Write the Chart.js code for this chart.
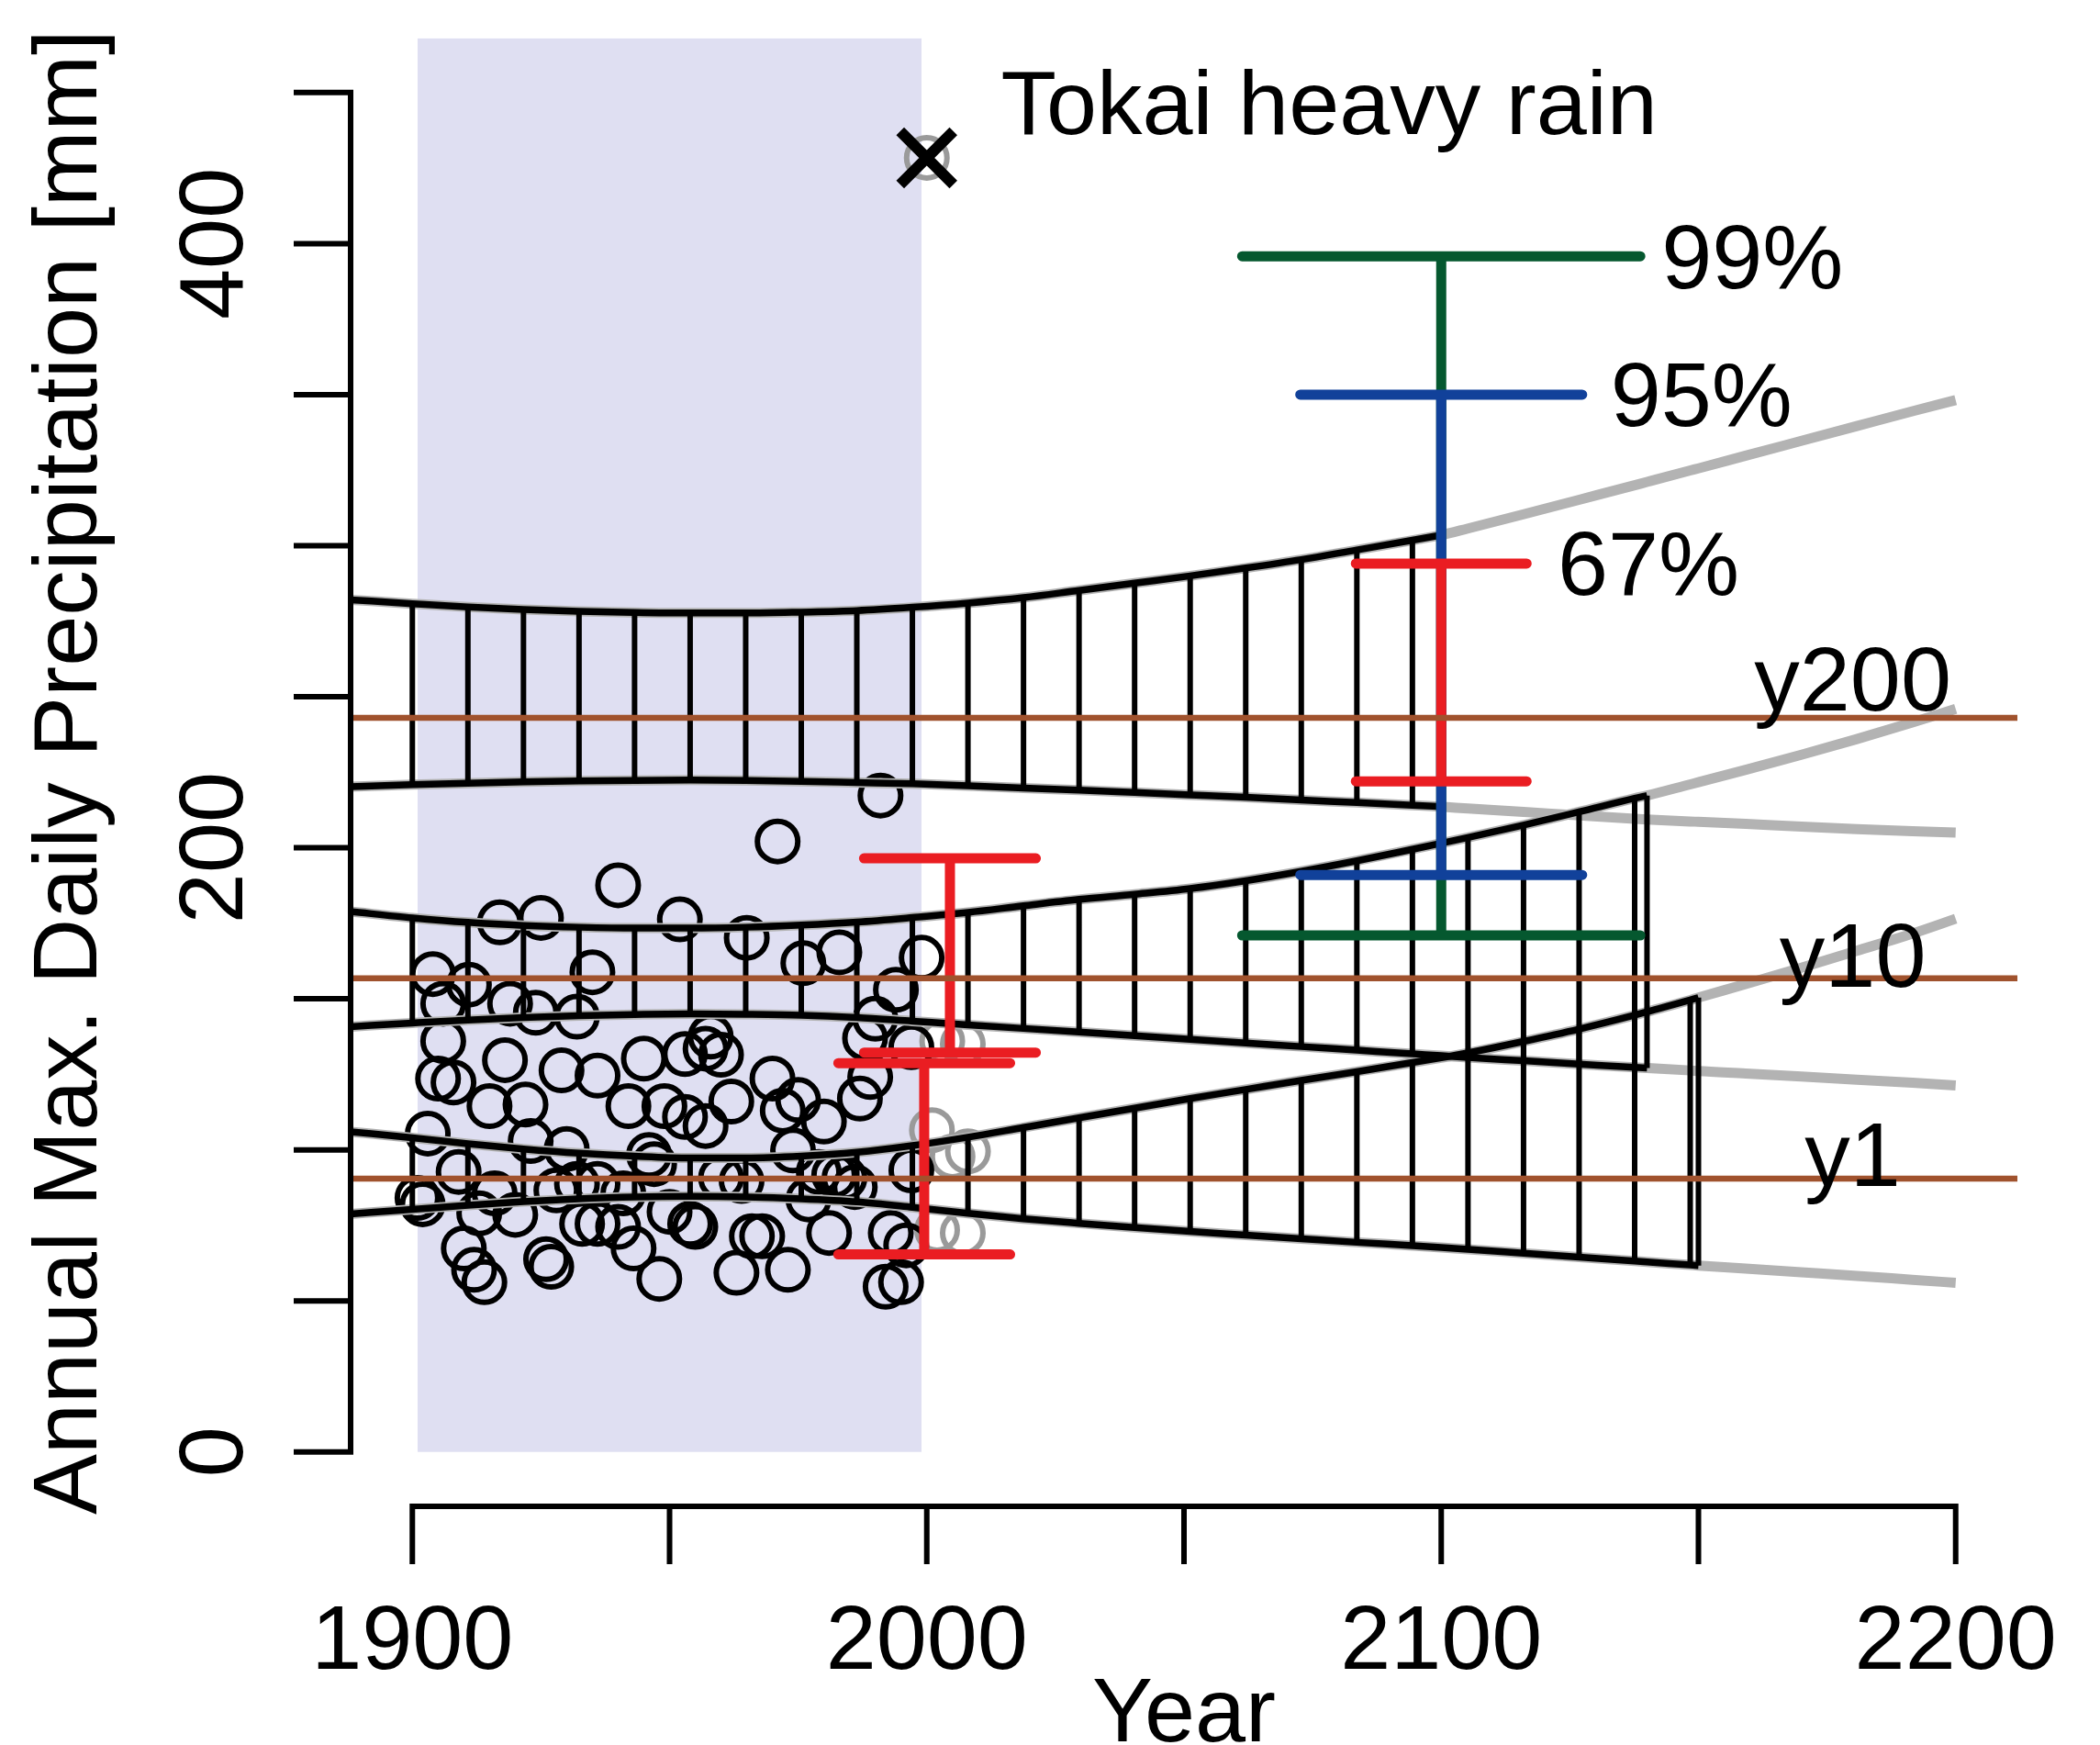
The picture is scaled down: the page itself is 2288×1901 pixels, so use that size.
<!DOCTYPE html>
<html>
<head>
<meta charset="utf-8">
<script src="https://cdn.jsdelivr.net/npm/chart.js@4.4.0/dist/chart.umd.min.js"></script>
<style>
  html, body { margin: 0; padding: 0; background: #fff; }
  canvas { display: block; }
</style>
</head>
<body>
<canvas id="chart" width="2288" height="1901"></canvas>
<script>
// === DATA ===
// x positions where the band boundaries were read (hatch grid + band ends)
const years = [1888, 1900, 1910.8, 1921.6, 1932.4, 1943.2, 1954, 1964.8, 1975.6, 1986.4, 1997.2,
  2008, 2018.8, 2029.6, 2040.4, 2051.2, 2062, 2072.8, 2083.6, 2094.4, 2100, 2105.2, 2116,
  2126.8, 2137.6, 2140, 2148.4, 2150, 2159.2, 2170, 2180.8, 2191.6, 2200];
const hatchYears = [1900, 1910.8, 1921.6, 1932.4, 1943.2, 1954, 1964.8, 1975.6, 1986.4, 1997.2,
  2008, 2018.8, 2029.6, 2040.4, 2051.2, 2062, 2072.8, 2083.6, 2094.4, 2105.2, 2116, 2126.8,
  2137.6, 2148.4];

// return level bands (upper / lower) [mm]
const y200Up = [282.1, 280.8, 279.7, 278.9, 278.3, 277.9, 277.7, 277.7, 278.0, 278.5, 279.6,
  281.0, 282.8, 285.2, 287.6, 290.0, 292.6, 295.4, 298.6, 301.8, 303.5, 305.7, 310.4,
  315.2, 320.0, 321.1, 324.9, 325.6, 329.8, 334.7, 339.6, 344.5, 348.2];
const y200Lo = [220.2, 220.9, 221.4, 221.8, 222.1, 222.3, 222.4, 222.3, 222.0, 221.6, 221.2,
  220.5, 219.8, 219.1, 218.3, 217.5, 216.7, 215.8, 215.0, 214.1, 213.6, 213.0, 211.9,
  210.7, 209.6, 209.4, 208.7, 208.6, 207.9, 207.0, 206.2, 205.5, 205.0];
const y10Up = [178.9, 176.8, 175.3, 174.3, 173.7, 173.4, 173.4, 173.7, 174.4, 175.4, 176.9,
  178.6, 180.8, 182.9, 184.6, 186.5, 189.1, 192.2, 195.7, 199.5, 201.5, 203.4, 207.5,
  211.9, 216.4, 217.3, 221.0, 221.7, 225.8, 230.8, 236.0, 241.5, 246.0];
const y10Lo = [140.8, 142.0, 143.0, 143.8, 144.4, 144.8, 145.0, 144.9, 144.6, 143.8, 142.6,
  141.4, 140.2, 139.0, 137.8, 136.6, 135.4, 134.2, 133.0, 131.8, 131.2, 130.6, 129.5,
  128.4, 127.3, 127.1, 126.3, 126.1, 125.3, 124.3, 123.2, 122.2, 121.3];
const y1Up = [106.0, 104.0, 102.0, 100.3, 98.9, 97.9, 97.3, 97.3, 97.9, 99.2, 101.4,
  104.2, 107.4, 110.6, 113.8, 117.0, 120.0, 123.0, 125.9, 128.9, 130.5, 132.1, 135.9,
  140.0, 144.6, 145.7, 149.6, 150.4, 154.9, 160.3, 165.9, 171.6, 176.5];
const y1Lo = [78.8, 80.3, 81.7, 82.9, 83.8, 84.4, 84.6, 84.4, 83.8, 82.8, 81.0,
  79.0, 77.2, 75.7, 74.3, 73.0, 71.8, 70.6, 69.4, 68.3, 67.7, 67.1, 65.8,
  64.5, 63.2, 62.9, 61.9, 61.7, 60.7, 59.5, 58.3, 57.0, 56.0];
const bandEnds = [2100, 2140, 2150]; // y200, y10, y1

// horizontal return levels and their labels
const levelValues = [243.0, 156.8, 90.5];
const levelNames = ['y200', 'y10', 'y1'];
const levelLabelY = [245.4, 154.0, 88.1];

// observed annual maxima (fitting period)
const obsYears = [1940, 1917, 1925, 1952, 1904, 1911, 1906, 1919, 1924, 1932, 1935, 1906, 1918,
  1945, 1953, 1905, 1908, 1929, 1936, 1915, 1922, 1942, 1949, 1953, 1903, 1923, 1930, 1946,
  1947, 1909, 1901, 1902, 1916, 1913, 1920, 1928, 1932, 1936, 1941, 1933, 1936, 1940, 1950,
  1954, 1910, 1912, 1914, 1926, 1927, 1943, 1948, 1991, 1971, 1965, 1976, 1983, 1999, 1994,
  1990, 1958, 1957, 1960, 1962, 1957, 1970, 1972, 1975, 1980, 1989, 1987, 1988, 1997, 1974,
  1960, 1964, 1979, 1982, 1984, 1986, 1977, 1997, 1955, 1966, 1968, 1981, 1993, 1996, 1963,
  1973, 1992, 1995];
const obsValues = [187.6, 175.3, 176.8, 176.3, 158.2, 154.7, 148.4, 148.4, 145.4, 144.1, 158.8, 136.0, 129.7,
  130.2, 131.7, 123.6, 122.3, 126.3, 124.6, 114.5, 115.0, 114.5, 114.5, 110.9, 105.4, 102.9, 100.3, 98.3,
  95.3, 92.7, 84.1, 82.0, 85.6, 79.0, 78.5, 86.6, 88.7, 88.7, 85.6, 75.5, 75.5, 74.5, 79.5,
  75.5, 67.4, 60.3, 56.2, 63.8, 61.3, 67.4, 57.3, 217.3, 202.1, 170.2, 161.8, 165.4, 163.6, 153.0,
  143.4, 137.5, 133.5, 131.5, 116.0, 107.9, 123.6, 113.0, 116.5, 109.4, 124.1, 117.0, 137.0, 134.0, 99.8,
  90.7, 89.7, 92.7, 91.7, 90.7, 87.7, 83.6, 93.2, 74.5, 71.4, 71.4, 72.5, 72.5, 68.4, 59.3,
  60.3, 54.7, 56.2];

// later years (grey)
const recentYears = [2001, 2003, 2007, 2005, 2008, 2002, 2007];
const recentValues = [106.5, 136.0, 135.0, 97.8, 99.5, 73.5, 72.5];

// Tokai heavy rain (2000)
const tokaiYear = 2000;
const tokaiValue = 428.4;

// confidence intervals at 2100 (lower, upper)
const ciYear = 2100;
const ci99 = [171.0, 395.8];
const ci95 = [191.0, 350.0];
const ci67 = [222.0, 294.1];
const ciCapHalf = [38.7, 27.4, 16.6];
const ciNames = ['99%', '95%', '67%'];
const ciLabelX = [2142.8, 2132.9, 2122.6];
const ciLabelY = [385.2, 339.5, 283.7];

// red intervals near 2000 (x, lower, upper)
const obsCiX = [2004.5, 1999.5];
const obsCiLo = [132.2, 65.4];
const obsCiHi = [196.5, 128.7];
const obsCapHalf = 16.7;

// axes
const xRange = [1888, 2212];
const yRange = [-18, 468];
const xTicks = [1900, 1950, 2000, 2050, 2100, 2150, 2200];
const xTickLabels = [1900, 2000, 2100, 2200];
const yTicks = [0, 50, 100, 150, 200, 250, 300, 350, 400, 450];
const yTickLabels = [0, 200, 400];
const shadeYears = [1901, 1999];

// === STYLE ===
const FONT = '99px "Liberation Sans", Arial, Helvetica, sans-serif';
const GRAY = '#b3b3b3';
const BROWN = '#a0522d';
const RED = '#ea1d22';
const BLUE = '#11419a';
const GREEN = '#05582f';

// === HELPERS ===
function curve(vals, lastYear) {
  const pts = [];
  years.forEach((x, i) => { if (x <= lastYear) pts.push({ x, y: vals[i] }); });
  return pts;
}

function hatch(lo, hi, end) {
  const pts = [];
  years.forEach((x, i) => {
    if (x > end) return;
    if (i === 0 || x === end || hatchYears.includes(x)) {
      pts.push({ x, y: lo[i] }, { x, y: hi[i] }, { x, y: null });
    }
  });
  return pts;
}

function errorBar(x, lo, hi, half) {
  return [
    { x: x - half, y: hi }, { x: x + half, y: hi }, { x, y: null },
    { x, y: hi }, { x, y: lo }, { x, y: null },
    { x: x - half, y: lo }, { x: x + half, y: lo }
  ];
}

function lineSet(data, color, width, order, extra) {
  return Object.assign({
    data, borderColor: color, borderWidth: width, pointRadius: 0,
    fill: false, tension: 0, order
  }, extra || {});
}

// === DATASETS ===
const datasets = [];

// shaded fitting period
datasets.push(lineSet(
  [{ x: shadeYears[0], y: yRange[1] }, { x: shadeYears[1], y: yRange[1] }],
  'rgba(0,0,0,0)', 0, 20, { fill: { value: 0 }, backgroundColor: '#dfdff2' }));

// observations
datasets.push({
  data: obsYears.map((x, i) => ({ x, y: obsValues[i] })),
  showLine: false, pointRadius: 22, pointBorderWidth: 6,
  pointBorderColor: '#000', pointBackgroundColor: 'rgba(0,0,0,0)', order: 15
});
datasets.push({
  data: recentYears.map((x, i) => ({ x, y: recentValues[i] })),
  showLine: false, pointRadius: 22, pointBorderWidth: 6,
  pointBorderColor: '#9a9a9a', pointBackgroundColor: 'rgba(0,0,0,0)', order: 15
});

// bands: grey full curves, black hatching and outline
const bands = [[y200Lo, y200Up], [y10Lo, y10Up], [y1Lo, y1Up]];
bands.forEach(([lo, hi], b) => {
  const smooth = { cubicInterpolationMode: 'monotone' };
  datasets.push(lineSet(curve(hi, years[years.length - 1]), GRAY, 11, 12, smooth));
  datasets.push(lineSet(curve(lo, years[years.length - 1]), GRAY, 11, 12, smooth));
  datasets.push(lineSet(hatch(lo, hi, bandEnds[b]), '#000', 6, 11, { spanGaps: false }));
  datasets.push(lineSet(curve(hi, bandEnds[b]), '#000', 7.5, 10, smooth));
  datasets.push(lineSet(curve(lo, bandEnds[b]), '#000', 7.5, 10, smooth));
});

// Tokai heavy rain
datasets.push({
  data: [{ x: tokaiYear, y: tokaiValue }], showLine: false, pointRadius: 22,
  pointBorderWidth: 6, pointBorderColor: '#9a9a9a', pointBackgroundColor: 'rgba(0,0,0,0)', order: 9
});
datasets.push({
  data: [{ x: tokaiYear, y: tokaiValue }], showLine: false, pointStyle: 'crossRot',
  pointRadius: 41, pointBorderWidth: 12, pointBorderColor: '#000', order: 8
});

// confidence intervals
const roundCap = { borderCapStyle: 'round', spanGaps: false };
datasets.push(lineSet(errorBar(ciYear, ci99[0], ci99[1], ciCapHalf[0]), GREEN, 11, 6, roundCap));
datasets.push(lineSet(errorBar(ciYear, ci95[0], ci95[1], ciCapHalf[1]), BLUE, 11, 5, roundCap));
datasets.push(lineSet(errorBar(ciYear, ci67[0], ci67[1], ciCapHalf[2]), RED, 11, 4, roundCap));
obsCiX.forEach((x, i) => {
  datasets.push(lineSet(errorBar(x, obsCiLo[i], obsCiHi[i], obsCapHalf), RED, 11, 4, roundCap));
});

// return level lines
levelValues.forEach(v => {
  datasets.push(lineSet([{ x: xRange[0], y: v }, { x: xRange[1], y: v }], BROWN, 6.5, 1));
});

// === AXES AND TEXT (R style) ===
const rAxes = {
  id: 'rAxes',
  afterDatasetsDraw(chart) {
    const { ctx, chartArea } = chart;
    const xs = chart.scales.x, ys = chart.scales.y;
    const left = chartArea.left, bottom = chartArea.bottom;
    ctx.save();
    ctx.strokeStyle = '#000';
    ctx.fillStyle = '#000';
    ctx.lineWidth = 6;

    // y axis
    ctx.beginPath();
    ctx.moveTo(left, ys.getPixelForValue(yTicks[0]) + 3);
    ctx.lineTo(left, ys.getPixelForValue(yTicks[yTicks.length - 1]) - 3);
    yTicks.forEach(v => {
      const p = ys.getPixelForValue(v);
      ctx.moveTo(left - 62, p);
      ctx.lineTo(left, p);
    });
    // x axis
    ctx.moveTo(xs.getPixelForValue(xTicks[0]) - 3, bottom);
    ctx.lineTo(xs.getPixelForValue(xTicks[xTicks.length - 1]) + 3, bottom);
    xTicks.forEach(v => {
      const p = xs.getPixelForValue(v);
      ctx.moveTo(p, bottom);
      ctx.lineTo(p, bottom + 63);
    });
    ctx.stroke();

    ctx.font = FONT;
    ctx.textBaseline = 'alphabetic';
    ctx.textAlign = 'center';
    xTickLabels.forEach(v => ctx.fillText(String(v), xs.getPixelForValue(v), bottom + 177));
    ctx.fillText('Year', (xs.getPixelForValue(xRange[0]) + xs.getPixelForValue(xRange[1])) / 2, bottom + 256);

    yTickLabels.forEach(v => {
      ctx.save();
      ctx.translate(left - 118, ys.getPixelForValue(v));
      ctx.rotate(-Math.PI / 2);
      ctx.fillText(String(v), 0, 0);
      ctx.restore();
    });
    ctx.save();
    ctx.translate(left - 277, (chartArea.top + chartArea.bottom) / 2);
    ctx.rotate(-Math.PI / 2);
    ctx.fillText('Annual Max. Daily Precipitation [mm]', 0, 0);
    ctx.restore();

    // annotations
    levelNames.forEach((t, i) => ctx.fillText(t, xs.getPixelForValue(2180), ys.getPixelForValue(levelLabelY[i])));
    ctx.textAlign = 'left';
    ciNames.forEach((t, i) => ctx.fillText(t, xs.getPixelForValue(ciLabelX[i]), ys.getPixelForValue(ciLabelY[i])));
    ctx.fillText('Tokai heavy rain', xs.getPixelForValue(2014.4), ys.getPixelForValue(436.3));
    ctx.restore();
  }
};

new Chart(document.getElementById('chart'), {
  type: 'line',
  data: { datasets },
  options: {
    responsive: false,
    animation: false,
    devicePixelRatio: 1,
    events: [],
    layout: { autoPadding: false, padding: { left: 382, top: 41.6, right: 90, bottom: 260 } },
    plugins: { legend: { display: false }, tooltip: { enabled: false } },
    scales: {
      x: { type: 'linear', min: xRange[0], max: xRange[1], display: false },
      y: { type: 'linear', min: yRange[0], max: yRange[1], display: false }
    }
  },
  plugins: [rAxes]
});
</script>
</body>
</html>
